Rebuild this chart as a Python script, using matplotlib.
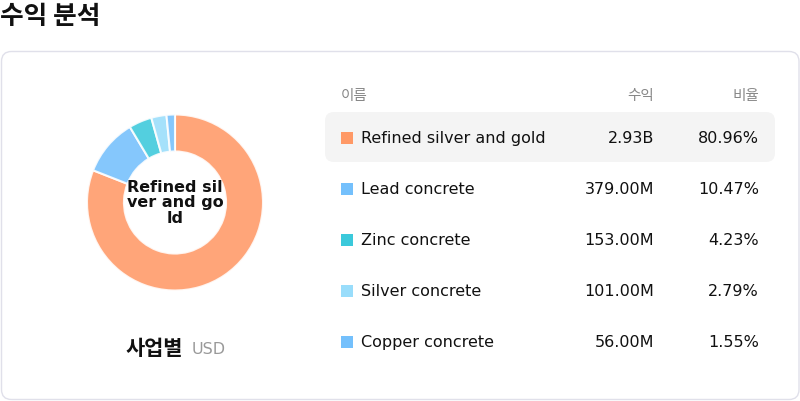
import matplotlib
matplotlib.use("Agg")
import matplotlib.pyplot as plt
from matplotlib.patches import FancyBboxPatch, Rectangle

plt.rcParams['font.family'] = ['DejaVu Sans', 'Noto Sans CJK KR']

names = ["Refined silver and gold", "Lead concrete", "Zinc concrete", "Silver concrete", "Copper concrete"]
revenues = [2930.0, 379.0, 153.0, 101.0, 56.0]  # millions USD
revenue_labels = ["2.93B", "379.00M", "153.00M", "101.00M", "56.00M"]
shares = [80.96, 10.47, 4.23, 2.79, 1.55]
colors = ["#FF9966", "#74C0FC", "#3BC9DB", "#99DDFB", "#74C0FC"]
headers = ["이름", "수익", "비율"]
title = "수익 분석"
subtitle = "사업별"
unit = "USD"
center_label = "Refined sil\nver and go\nld"

W, H = 800, 402
fig = plt.figure(figsize=(W / 100, H / 100), dpi=100)
bg = fig.add_axes([0, 0, 1, 1])
bg.set_xlim(0, W)
bg.set_ylim(H, 0)
bg.axis('off')

kr = ['Noto Sans CJK KR', 'DejaVu Sans']

# title
bg.text(0, 16, title, fontsize=18.5, fontweight='bold', family=kr, va='center', ha='left', color='#111111')

# card
card = FancyBboxPatch((1.5, 52.5), 797.5, 348, boxstyle="round,pad=0,rounding_size=10",
                      fc='white', ec='#E0E0EA', lw=1.0)
bg.add_patch(card)

# highlight row
hl = FancyBboxPatch((325, 113), 450, 50, boxstyle="round,pad=0,rounding_size=9",
                    fc='#F4F4F4', ec='none')
bg.add_patch(hl)

# headers
bg.text(341, 96, headers[0], fontsize=10.5, family=kr, color='#888888', va='center', ha='left')
bg.text(654, 96, headers[1], fontsize=10.5, family=kr, color='#888888', va='center', ha='right')
bg.text(759, 96, headers[2], fontsize=10.5, family=kr, color='#888888', va='center', ha='right')

# rows
row_y0, row_dy = 138.5, 51
for i, (n, rl, s, c) in enumerate(zip(names, revenue_labels, shares, colors)):
    y = row_y0 + i * row_dy
    bg.add_patch(Rectangle((341, y - 6), 12, 12, fc=c, ec='none'))
    bg.text(361, y, n, fontsize=11.5, color='#111111', va='center', ha='left')
    bg.text(654, y, rl, fontsize=11.5, color='#111111', va='center', ha='right')
    bg.text(759, y, f"{s:.2f}%", fontsize=11.5, color='#111111', va='center', ha='right')

# subtitle
bg.text(183, 349, subtitle, fontsize=15, fontweight='bold', family=kr, color='#111111', va='center', ha='right')
bg.text(192, 350, unit, fontsize=11.5, color='#999999', va='center', ha='left')

# donut
cx, cy, r = 175, 203.5, 88
pax = fig.add_axes([(cx - r) / W, (H - cy - r) / H, 2 * r / W, 2 * r / H])
pax.pie(revenues, colors=colors, startangle=90, counterclock=False,
        wedgeprops=dict(width=0.42, edgecolor='white', linewidth=1.5, alpha=0.88))
pax.set_xlim(-1, 1)
pax.set_ylim(-1, 1)
pax.set_aspect('equal')
pax.axis('off')
pax.text(0, 0.01, center_label, fontsize=11.5, fontweight='bold', ha='center', va='center',
         color='#111111', linespacing=1.05)

fig.savefig("out.png", dpi=100)
